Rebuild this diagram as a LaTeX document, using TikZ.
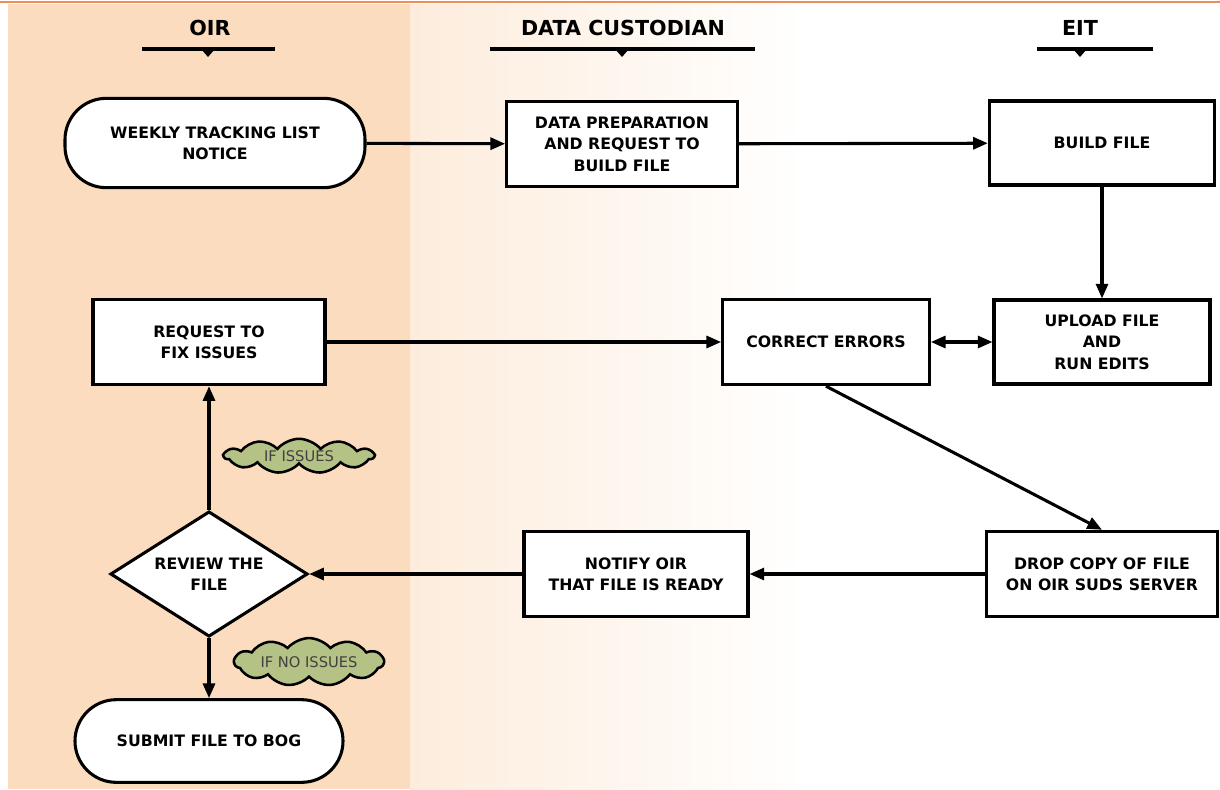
\documentclass[tikz,border=0pt]{standalone}
\usepackage{fontspec}
\setmainfont{DejaVu Sans}
\usetikzlibrary{shapes.geometric,shapes.symbols,arrows.meta}

\definecolor{oirBand}{RGB}{252,220,190}
\definecolor{dcBand}{RGB}{253,236,220}
\definecolor{topLine}{RGB}{238,140,90}
\definecolor{cloudGreen}{RGB}{180,194,134}

\tikzset{every picture/.style={line width=0.75pt}}
\tikzset{
	stepBox/.style={draw, line width=2.3pt, fill=white, align=center, font=\bfseries\fontsize{11.8}{16}\selectfont, inner sep=2pt},
	termBox/.style={stepBox, rounded corners=31pt},
	decBox/.style={stepBox, diamond, aspect=1.58, inner sep=0pt},
	noteCloud/.style={cloud, cloud puffs=11, cloud puff arc=100, aspect=4.4, draw, line width=1.9pt, fill=cloudGreen, inner sep=0pt, font=\fontsize{11}{12}\selectfont, text=black!75},
	flowArrow/.style={line width=2.3pt, -{Triangle[length=11pt,width=9pt]}},
	laneHead/.style={font=\bfseries\fontsize{15.5}{17}\selectfont},
}

\begin{document}
\begin{tikzpicture}[x=0.75pt,y=0.75pt,yscale=-1,xscale=1]
	\useasboundingbox (0,0) rectangle (1220,789);

	%Shape: lane backgrounds
	\fill [white] (0,0) rectangle (1220,789);
	\fill [oirBand] (8,4) rectangle (410,789);
	\shade [left color=dcBand, right color=white] (410,4) rectangle (805,789);
	\draw [topLine, line width=2pt] (0,2) -- (1220,2);

	% Text Node
	\node [laneHead] (hOir) at (210,28) {OIR};
	\node [laneHead] (hDc) at (623,28) {DATA CUSTODIAN};
	\node [laneHead] (hEit) at (1080,28) {EIT};
	%Straight Lines
	\draw [line width=3pt] (142,49) -- (275,49);
	\fill (201,49) -- (215,49) -- (208,57) -- cycle;
	\draw [line width=3pt] (490,49) -- (755,49);
	\fill (615,49) -- (629,49) -- (622,57) -- cycle;
	\draw [line width=3pt] (1037,49) -- (1153,49);
	\fill (1073,49) -- (1087,49) -- (1080,57) -- cycle;

	% Nodes
	\node [termBox, minimum width=225pt, minimum height=67pt] (weekly) at (215,143) {WEEKLY TRACKING LIST\\NOTICE};
	\node [stepBox, minimum width=173pt, minimum height=64pt] (prep) at (622,144) {DATA PREPARATION\\AND REQUEST TO\\BUILD FILE};
	\node [stepBox, minimum width=169pt, minimum height=63pt] (build) at (1102,143) {BUILD FILE};
	\node [stepBox, minimum width=162pt, minimum height=63pt] (upload) at (1102,342) {UPLOAD FILE\\AND\\RUN EDITS};
	\node [stepBox, minimum width=155pt, minimum height=64pt] (correct) at (826,342) {CORRECT ERRORS};
	\node [stepBox, minimum width=174pt, minimum height=64pt] (request) at (209,342) {REQUEST TO\\FIX ISSUES};
	\node [decBox, minimum width=148pt, minimum height=94pt] (review) at (209,574) {REVIEW THE\\FILE};
	\node [termBox, minimum width=201pt, minimum height=62pt] (submit) at (209,741) {SUBMIT FILE TO BOG};
	\node [stepBox, minimum width=168pt, minimum height=64pt] (notify) at (636,574) {NOTIFY OIR\\THAT FILE IS READY};
	\node [stepBox, minimum width=173pt, minimum height=64pt] (drop) at (1102,574) {DROP COPY OF FILE\\ON OIR SUDS SERVER};

	% Cloud notes
	\node [noteCloud, minimum width=112pt, minimum height=25pt] (issues) at (299,456) {IF ISSUES};
	\node [noteCloud, minimum width=112pt, minimum height=25pt] (noIssues) at (309,662) {IF NO ISSUES};

	% Connectors
	\draw [flowArrow] (weekly) -- (prep);
	\draw [flowArrow] (prep) -- (build);
	\draw [flowArrow] (build) -- (upload);
	\draw [flowArrow] (request) -- (correct);
	\draw [flowArrow, {Triangle[length=11pt,width=9pt]}-{Triangle[length=11pt,width=9pt]}] (correct) -- (upload);
	\draw [flowArrow] (correct.south) -- (drop.north);
	\draw [flowArrow] (drop) -- (notify);
	\draw [flowArrow] (notify) -- (review);
	\draw [flowArrow] (review) -- (request);
	\draw [flowArrow] (review) -- (submit);

\end{tikzpicture}
\end{document}
